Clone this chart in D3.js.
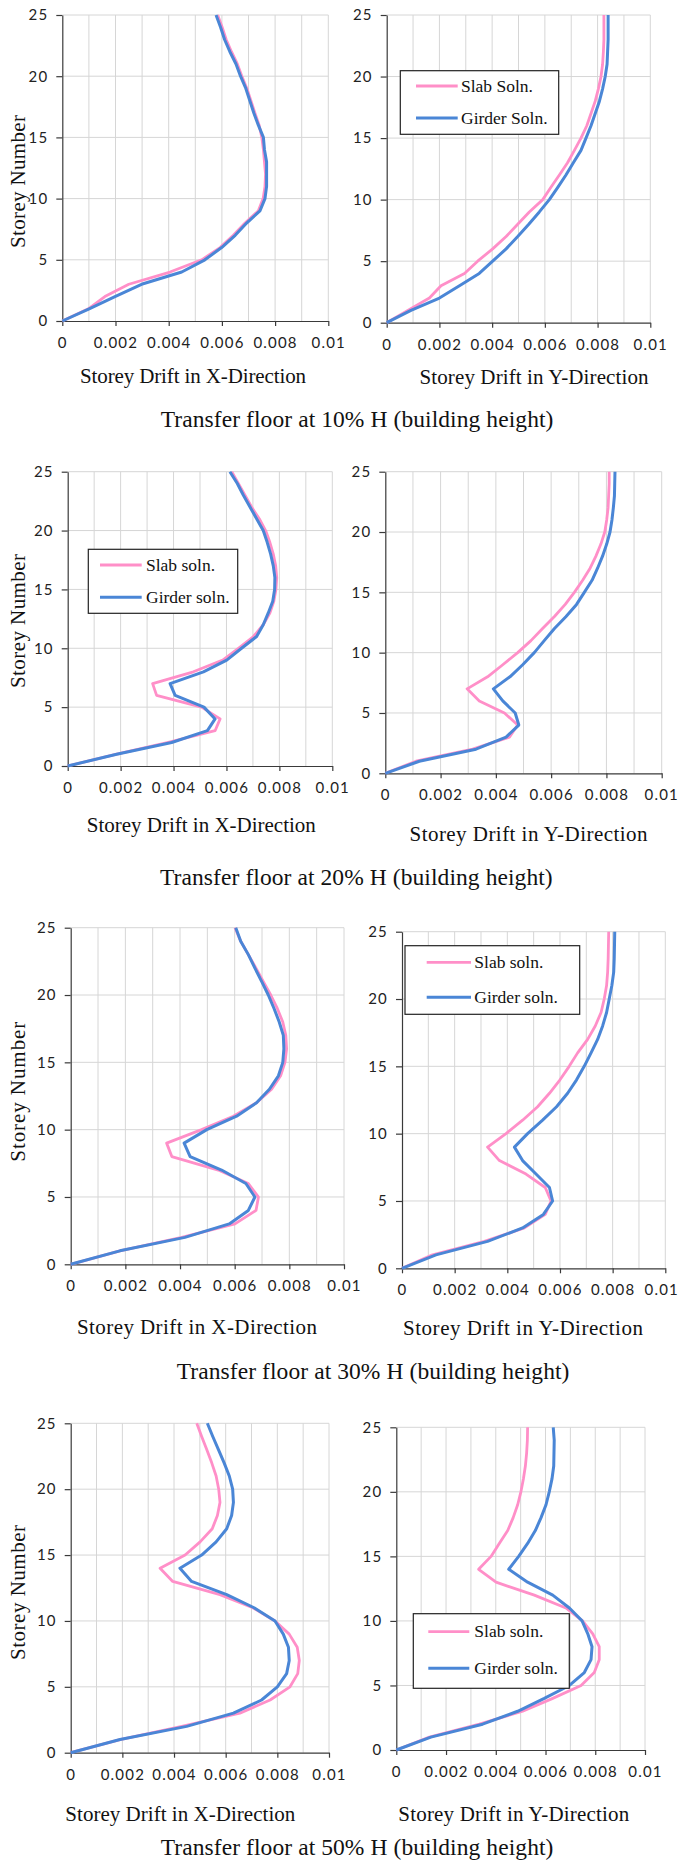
<!DOCTYPE html>
<html>
<head>
<meta charset="utf-8">
<script src="https://cdn.jsdelivr.net/npm/d3@7"></script>
<style>
  body { margin: 0; background: #fff; }
  svg { display: block; }
</style>
</head>
<body>
<svg id="fig" width="681" height="1860"></svg>
<script>
// Storey levels 0..25 and x-axis ticks
const storeys = d3.range(0, 26);
const yTicks = [0, 5, 10, 15, 20, 25];
const xTicks = [0, 0.002, 0.004, 0.006, 0.008, 0.01];
const xTickLabels = ["0", "0.002", "0.004", "0.006", "0.008", "0.01"];
const xGrid = [0.001, 0.002, 0.003, 0.004, 0.005, 0.006, 0.007, 0.008, 0.009, 0.01];

const seriesNames = ["Slab soln.", "Girder soln."];
const seriesNamesCap = ["Slab Soln.", "Girder Soln."];
const captions = [
  "Transfer floor at 10% H (building height)",
  "Transfer floor at 20% H (building height)",
  "Transfer floor at 30% H (building height)",
  "Transfer floor at 50% H (building height)"
];

// Storey drift per storey (index = storey number)
const slabX10   = [0, 0.00098, 0.0016, 0.0025, 0.00405, 0.00524, 0.00593, 0.00643, 0.00687, 0.00737, 0.00755, 0.00762, 0.00764, 0.0076, 0.00756, 0.0075, 0.0074, 0.00724, 0.00709, 0.00694, 0.00675, 0.00658, 0.00636, 0.00616, 0.00601, 0.00584];
const girderX10 = [0, 0.00101, 0.00198, 0.00298, 0.00449, 0.00536, 0.00599, 0.0065, 0.00693, 0.00743, 0.00762, 0.00768, 0.00768, 0.00768, 0.0076, 0.00756, 0.00737, 0.0072, 0.00705, 0.0069, 0.0067, 0.00653, 0.0063, 0.0061, 0.00595, 0.00578];
const slabY10   = [0, 0.0008, 0.00162, 0.00206, 0.00295, 0.00345, 0.00402, 0.00453, 0.00497, 0.00541, 0.00592, 0.00623, 0.00655, 0.00686, 0.00712, 0.00737, 0.00759, 0.00775, 0.00791, 0.00803, 0.00813, 0.00819, 0.00822, 0.00824, 0.00824, 0.00824];
const girderY10 = [0, 0.00092, 0.002, 0.00276, 0.00351, 0.00402, 0.00453, 0.00497, 0.00539, 0.00579, 0.00617, 0.00649, 0.0068, 0.00708, 0.00737, 0.00756, 0.00775, 0.00791, 0.00807, 0.00819, 0.00829, 0.00836, 0.00838, 0.0084, 0.0084, 0.0084];

const slabX20   = [0, 0.00185, 0.0038, 0.00557, 0.00576, 0.00506, 0.00336, 0.00321, 0.00475, 0.00586, 0.00645, 0.00702, 0.00739, 0.00764, 0.00779, 0.00787, 0.0079, 0.00786, 0.00777, 0.00764, 0.00748, 0.00724, 0.00695, 0.0067, 0.00645, 0.0062];
const girderX20 = [0, 0.00185, 0.00393, 0.00528, 0.00557, 0.00515, 0.00406, 0.00387, 0.00513, 0.00601, 0.00657, 0.00714, 0.00739, 0.00758, 0.00775, 0.00782, 0.00783, 0.00777, 0.00767, 0.00754, 0.00739, 0.00714, 0.00689, 0.00664, 0.00641, 0.00613];
const slabY20   = [0, 0.00111, 0.00316, 0.00449, 0.00479, 0.00431, 0.0034, 0.00296, 0.0037, 0.00425, 0.00479, 0.00527, 0.00569, 0.00612, 0.00651, 0.00684, 0.00714, 0.00741, 0.00762, 0.0078, 0.00794, 0.00801, 0.00806, 0.00808, 0.0081, 0.0081];
const girderY20 = [0, 0.00123, 0.00328, 0.00437, 0.00483, 0.0047, 0.00425, 0.00391, 0.00451, 0.00497, 0.00539, 0.00575, 0.00612, 0.00654, 0.00692, 0.0072, 0.00748, 0.00768, 0.00786, 0.00801, 0.00813, 0.0082, 0.00825, 0.00829, 0.0083, 0.00831];

const slabX30   = [0, 0.0018, 0.00406, 0.00601, 0.00678, 0.00687, 0.0065, 0.0054, 0.0037, 0.00351, 0.00479, 0.00595, 0.0068, 0.00735, 0.00768, 0.00784, 0.0079, 0.00787, 0.00776, 0.00756, 0.00732, 0.00705, 0.00678, 0.0065, 0.00622, 0.00601];
const girderX30 = [0, 0.0018, 0.00418, 0.0058, 0.0065, 0.00674, 0.00641, 0.00552, 0.00437, 0.00415, 0.00498, 0.00607, 0.0068, 0.00727, 0.0076, 0.00776, 0.0078, 0.00778, 0.00763, 0.00744, 0.00723, 0.00699, 0.00674, 0.0065, 0.00622, 0.00604];
const slabY30   = [0, 0.00116, 0.00313, 0.00465, 0.00544, 0.00566, 0.00544, 0.00471, 0.0037, 0.00325, 0.00395, 0.00458, 0.00515, 0.0056, 0.006, 0.00635, 0.00667, 0.00705, 0.00734, 0.00756, 0.00768, 0.00777, 0.00781, 0.00783, 0.00784, 0.00785];
const girderY30 = [0, 0.00129, 0.00325, 0.00458, 0.00537, 0.00572, 0.0056, 0.00509, 0.00458, 0.00427, 0.00477, 0.00534, 0.00587, 0.00629, 0.00663, 0.00692, 0.00718, 0.00743, 0.00762, 0.00777, 0.00787, 0.00797, 0.00804, 0.00806, 0.00807, 0.00808];

const slabX50   = [0, 0.00191, 0.0043, 0.00655, 0.00772, 0.00849, 0.00879, 0.00885, 0.00877, 0.00846, 0.00791, 0.00705, 0.00578, 0.00395, 0.00346, 0.00443, 0.00501, 0.00548, 0.00568, 0.00578, 0.00573, 0.00563, 0.00546, 0.00527, 0.00507, 0.00488];
const girderX50 = [0, 0.00191, 0.00449, 0.0063, 0.00739, 0.008, 0.00836, 0.00846, 0.00843, 0.00823, 0.00791, 0.0071, 0.00604, 0.00468, 0.00423, 0.00507, 0.00563, 0.00604, 0.00623, 0.0063, 0.00627, 0.00614, 0.00594, 0.00572, 0.0055, 0.00529];
const slabY50   = [0, 0.00133, 0.00334, 0.00508, 0.00629, 0.00743, 0.00796, 0.00816, 0.00816, 0.0079, 0.00749, 0.00682, 0.00555, 0.00401, 0.00331, 0.00381, 0.00414, 0.00448, 0.0047, 0.00488, 0.00501, 0.00511, 0.00519, 0.00524, 0.00527, 0.00528];
const girderY50 = [0, 0.00139, 0.00347, 0.00488, 0.00595, 0.00696, 0.00756, 0.00783, 0.00787, 0.0077, 0.00747, 0.00696, 0.00629, 0.00528, 0.00452, 0.00492, 0.00528, 0.00559, 0.00582, 0.00602, 0.00615, 0.00626, 0.00633, 0.00634, 0.00635, 0.00631];

// Styling
const colors = { slab: "#ff8fc8", girder: "#4a86d6" };
const gridColor = "#d6d6d6";
const axisColor = "#3a3a3a";
const serif = "'Liberation Serif', 'Times New Roman', serif";
const sans = "Lato, 'Open Sans', sans-serif";
const pageWidth = 681;

// Panel layout (plot box in page pixels)
const panels = [
  { slab: slabX10, girder: girderX10, box: [62.3, 328.3, 15, 321],
    title: "Storey Drift in X-Direction", tx: 193, ty: 383.3, tw: 226, ylab: [181.5, 133] },
  { slab: slabY10, girder: girderY10, box: [386.7, 650.3, 15, 322.7],
    title: "Storey Drift in Y-Direction", tx: 534, ty: 384, tw: 229,
    legend: { names: seriesNamesCap, box: [400.3, 558.7, 70.7, 134.3], line: [416, 457.7], ly: [86, 118], tx: 461 } },
  { slab: slabX20, girder: girderX20, box: [67.7, 332.3, 471.7, 766],
    title: "Storey Drift in X-Direction", tx: 201.3, ty: 832.3, tw: 229, ylab: [621, 134],
    legend: { names: seriesNames, box: [88.3, 237.7, 549.3, 613.3], line: [100, 141.7], ly: [565, 597.3], tx: 146 } },
  { slab: slabY20, girder: girderY20, box: [385.3, 661.7, 471.7, 773.3],
    title: "Storey Drift in Y-Direction", tx: 528.5, ty: 840.7, tw: 238 },
  { slab: slabX30, girder: girderX30, box: [70.7, 344, 927.7, 1264.3],
    title: "Storey Drift in X-Direction", tx: 197, ty: 1334, tw: 240, ylab: [1091.7, 140] },
  { slab: slabY30, girder: girderY30, box: [402, 665.3, 931.7, 1268.3],
    title: "Storey Drift in Y-Direction", tx: 523, ty: 1335, tw: 240,
    legend: { names: seriesNames, box: [405, 579.7, 945.7, 1014.3], line: [426.7, 471], ly: [962.3, 997.3], tx: 474.3 } },
  { slab: slabX50, girder: girderX50, box: [70.7, 329, 1423.3, 1752.7],
    title: "Storey Drift in X-Direction", tx: 180.3, ty: 1821, tw: 230, ylab: [1592.5, 135] },
  { slab: slabY50, girder: girderY50, box: [396.3, 645, 1427.3, 1750],
    title: "Storey Drift in Y-Direction", tx: 513.8, ty: 1821, tw: 231,
    legend: { names: seriesNames, box: [413.3, 569.3, 1613.7, 1688.3], line: [428.3, 469.3], ly: [1631.7, 1668.3], tx: 474.3 } }
];

const captionPos = [
  { x: 160.7, y: 427.3 }, { x: 160, y: 884.7 }, { x: 176.7, y: 1378.7 }, { x: 160.7, y: 1855 }
];

const svg = d3.select("#fig");

panels.forEach(p => {
  const [l, r, t, b] = p.box;
  const x = d3.scaleLinear().domain([0, 0.01]).range([l, r]);
  const y = d3.scaleLinear().domain([0, 25]).range([b, t]);
  const g = svg.append("g");

  // gridlines
  g.append("g").selectAll("line").data(xGrid).join("line")
    .attr("x1", d => x(d)).attr("x2", d => x(d))
    .attr("y1", y(0)).attr("y2", y(25))
    .attr("stroke", gridColor).attr("stroke-width", 1);
  g.append("g").selectAll("line").data(yTicks.filter(d => d > 0)).join("line")
    .attr("x1", x(0)).attr("x2", x(0.01))
    .attr("y1", d => y(d)).attr("y2", d => y(d))
    .attr("stroke", gridColor).attr("stroke-width", 1);

  // axes
  const yAxis = g.append("g").attr("transform", `translate(${l},0)`)
    .call(d3.axisLeft(y).tickValues(yTicks).tickSize(6).tickSizeOuter(0).tickPadding(8));
  const xAxis = g.append("g").attr("transform", `translate(0,${b})`)
    .call(d3.axisBottom(x).tickValues(xTicks).tickSize(5).tickSizeOuter(0)
      .tickFormat((d, i) => xTickLabels[i]));
  [yAxis, xAxis].forEach(a => {
    a.select(".domain").attr("stroke", axisColor).attr("stroke-width", 1.2);
    a.selectAll(".tick line").attr("stroke", axisColor).attr("stroke-width", 1.2);
    a.selectAll("text").attr("fill", "#222").style("font-family", sans)
      .style("font-size", "15px").style("letter-spacing", "1.2px");
  });
  xAxis.selectAll("text").attr("y", 27).attr("dy", 0);
  // keep the right-most tick label inside the page
  xAxis.selectAll(".tick text").each(function () {
    const bb = this.getBoundingClientRect();
    const over = bb.right - (pageWidth - 2);
    if (over > 0) d3.select(this).attr("x", -over);
  });

  // series lines
  const line = d3.line().x(d => x(d[1])).y(d => y(d[0]));
  g.append("path").datum(storeys.map(s => [s, p.slab[s]]))
    .attr("d", line).attr("fill", "none").attr("stroke", colors.slab)
    .attr("stroke-width", 2.8).attr("stroke-linejoin", "round");
  g.append("path").datum(storeys.map(s => [s, p.girder[s]]))
    .attr("d", line).attr("fill", "none").attr("stroke", colors.girder)
    .attr("stroke-width", 3).attr("stroke-linejoin", "round");

  // axis titles
  g.append("text").attr("x", p.tx).attr("y", p.ty)
    .attr("text-anchor", "middle").attr("textLength", p.tw).attr("lengthAdjust", "spacing")
    .style("font-family", serif).style("font-size", "21px").attr("fill", "#111")
    .text(p.title);
  if (p.ylab) {
    g.append("text").attr("transform", `translate(25,${p.ylab[0]}) rotate(-90)`)
      .attr("text-anchor", "middle").attr("textLength", p.ylab[1]).attr("lengthAdjust", "spacing")
      .style("font-family", serif).style("font-size", "21px").attr("fill", "#111")
      .text("Storey  Number");
  }

  // legend
  if (p.legend) {
    const L = p.legend;
    const lg = g.append("g");
    lg.append("rect").attr("x", L.box[0]).attr("y", L.box[2])
      .attr("width", L.box[1] - L.box[0]).attr("height", L.box[3] - L.box[2])
      .attr("fill", "#fff").attr("stroke", "#222").attr("stroke-width", 1.2);
    [colors.slab, colors.girder].forEach((c, i) => {
      lg.append("line").attr("x1", L.line[0]).attr("x2", L.line[1])
        .attr("y1", L.ly[i]).attr("y2", L.ly[i])
        .attr("stroke", c).attr("stroke-width", i ? 3 : 2.8);
      lg.append("text").attr("x", L.tx).attr("y", L.ly[i] + 5.7)
        .style("font-family", serif).style("font-size", "17.5px").attr("fill", "#111")
        .text(L.names[i]);
    });
  }
});

// row captions
captions.forEach((c, i) => {
  svg.append("text").attr("x", captionPos[i].x).attr("y", captionPos[i].y)
    .attr("textLength", 392.7).attr("lengthAdjust", "spacing")
    .style("font-family", serif).style("font-size", "23.5px").attr("fill", "#111")
    .text(c);
});
</script>
</body>
</html>
